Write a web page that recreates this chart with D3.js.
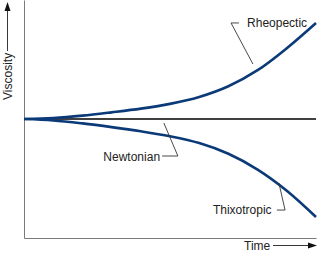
<!DOCTYPE html>
<html>
<head>
<meta charset="utf-8">
<script src="https://cdn.jsdelivr.net/npm/d3@7"></script>
<style>
  body { margin: 0; background: #fff; }
  text { font-family: "Liberation Sans", Arial, sans-serif; font-size: 12px; fill: #222; }
</style>
</head>
<body>
<div id="chart"></div>
<script>
// time steps (arbitrary units) and viscosity readings
let time = [0, 1, 2, 3, 4, 5, 6, 7, 8, 9, 10]
let rheopectic = [10, 10.08, 10.28, 10.56, 10.87, 11.27, 11.85, 12.75, 14.1, 15.95, 18.07]
let newtonian = [10, 10, 10, 10, 10, 10, 10, 10, 10, 10, 10]
let thixotropic = [10, 9.88, 9.63, 9.32, 8.97, 8.55, 7.98, 7.08, 5.75, 3.97, 1.76]

// labels with leader lines, in data units
let labels = [
  {text: "Rheopectic", at: [7.64, 17.7], anchor: "start",
    leader: [[7.36, 18.07], [7.09, 18.07], [7.84, 14.62]]},
  {text: "Newtonian", at: [4.66, 6.47], anchor: "end",
    leader: [[4.73, 6.89], [5.27, 6.89], [4.79, 9.66]]},
  {text: "Thixotropic", at: [6.47, 2.02], anchor: "start",
    leader: [[8.66, 2.35], [8.94, 2.35], [8.73, 4.62]]}
]

let W = 320, H = 253
let margin = {top: 0, right: 4, bottom: 15, left: 24}
let width = W - margin.left - margin.right
let height = H - margin.top - margin.bottom

let svg = d3.select("#chart").append("svg")
  .attr("width", W)
  .attr("height", H)

let g = svg.append("g")
  .attr("transform", "translate(" + margin.left + "," + margin.top + ")")

let x = d3.scaleLinear().domain([0, 10]).range([0, width])
let y = d3.scaleLinear().domain([0, 20]).range([height, 0])

// axes without ticks
g.append("g")
  .attr("transform", "translate(0," + height + ")")
  .call(d3.axisBottom(x).ticks(0).tickSizeOuter(0))
  .select(".domain").attr("stroke", "#7a7a7a")

g.append("g")
  .call(d3.axisLeft(y).ticks(0).tickSizeOuter(0))
  .select(".domain").attr("stroke", "#7a7a7a")

let line = d3.line()
  .x(function(d, i) { return x(time[i]) })
  .y(function(d) { return y(d) })
  .curve(d3.curveCatmullRom.alpha(0.5))

g.append("path")
  .datum(newtonian)
  .attr("fill", "none")
  .attr("stroke", "#000")
  .attr("stroke-width", 1.4)
  .attr("d", line)

;[rheopectic, thixotropic].forEach(function(s) {
  g.append("path")
    .datum(s)
    .attr("fill", "none")
    .attr("stroke", "#0b3a78")
    .attr("stroke-width", 2.6)
    .attr("d", line)
})

// annotation leaders + text
let leader = d3.line()
  .x(function(d) { return x(d[0]) })
  .y(function(d) { return y(d[1]) })

labels.forEach(function(l) {
  g.append("path")
    .attr("d", leader(l.leader))
    .attr("fill", "none")
    .attr("stroke", "#333")
    .attr("stroke-width", 0.9)
  g.append("text")
    .attr("x", x(l.at[0]))
    .attr("y", y(l.at[1]))
    .attr("text-anchor", l.anchor)
    .text(l.text)
})

// axis titles with arrows
svg.append("text")
  .attr("x", 244)
  .attr("y", 250)
  .text("Time")

svg.append("line")
  .attr("x1", 273).attr("x2", 310)
  .attr("y1", 245.5).attr("y2", 245.5)
  .attr("stroke", "#222")
  .attr("stroke-width", 0.9)
svg.append("path")
  .attr("d", "M317,245.5 L308,242.5 L308,248.5 Z")
  .attr("fill", "#111")

svg.append("text")
  .attr("transform", "translate(12,100) rotate(-90)")
  .text("Viscosity")

svg.append("line")
  .attr("x1", 7.5).attr("x2", 7.5)
  .attr("y1", 51).attr("y2", 10)
  .attr("stroke", "#222")
  .attr("stroke-width", 0.9)
svg.append("path")
  .attr("d", "M7.5,2 L4.5,11 L10.5,11 Z")
  .attr("fill", "#111")
</script>
</body>
</html>
